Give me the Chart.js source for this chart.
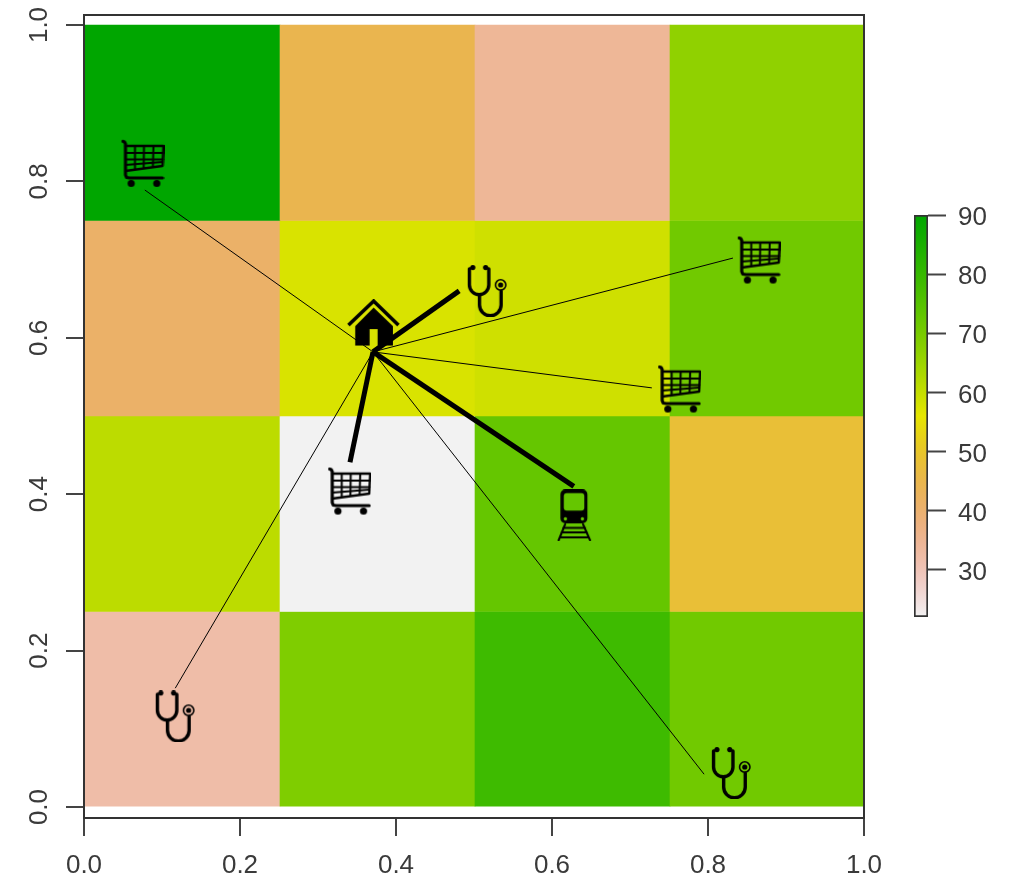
<!DOCTYPE html>
<html>
<head>
<meta charset="utf-8">
<style>
html,body{margin:0;padding:0;background:#fff;overflow:hidden}
canvas{position:absolute;display:block;filter:blur(.35px)}
</style>
<script src="https://cdn.jsdelivr.net/npm/chart.js@4"></script>
</head>
<body>
<canvas id="map" width="1013" height="878" style="left:0;top:0;width:1013px;height:878px"></canvas>
<canvas id="bar" width="123" height="450" style="left:890px;top:190px;width:123px;height:450px"></canvas>
<script>
// ---- data ----
const axisTicks = [0, 0.2, 0.4, 0.6, 0.8, 1];
const cellCentersX = [0.1263, 0.3763, 0.6263, 0.8763];
const rowRanges = [[0.75, 1], [0.5, 0.75], [0.25, 0.5], [0, 0.25]];
const row1 = [90, 44.5, 34.4, 66.7];
const row2 = [41, 57.5, 58.7, 71];
const row3 = [61, 22, 72.7, 48];
const row4 = [32, 69, 78.8, 71];
const legendTicks = [30, 40, 50, 60, 70, 80, 90];
const legendRange = [22, 90];

const home = {x: 0.3705, y: 0.582};
const linkEnds = [
  {x: 0.078, y: 0.789}, {x: 0.481, y: 0.66}, {x: 0.832, y: 0.702}, {x: 0.728, y: 0.536},
  {x: 0.628, y: 0.41}, {x: 0.341, y: 0.441}, {x: 0.117, y: 0.152}, {x: 0.795, y: 0.042}
];
const linkWeights = [1, 5, 1, 1, 5, 5, 1, 1];
const housePoints = [{x: 0.371, y: 0.6195}];
const cartPoints = [{x: 0.075, y: 0.823}, {x: 0.865, y: 0.6995}, {x: 0.763, y: 0.5345}, {x: 0.34, y: 0.404}];
const stethPoints = [{x: 0.517, y: 0.66}, {x: 0.117, y: 0.116}, {x: 0.83, y: 0.0435}];
const trainPoints = [{x: 0.629, y: 0.373}];

// ---- colour map (terrain palette in HSV) ----
function hsv(h, s, v) {
  const i = Math.floor(h * 6) % 6, f = h * 6 - Math.floor(h * 6);
  const p = v * (1 - s), q = v * (1 - f * s), t = v * (1 - (1 - f) * s);
  const c = [[v,t,p],[q,v,p],[p,v,t],[p,q,v],[t,p,v],[v,p,q]][i];
  return 'rgb(' + c.map(n => Math.round(n * 255)).join(',') + ')';
}
function terrain(val) {
  const t = (val - legendRange[0]) / (legendRange[1] - legendRange[0]);
  if (t >= 0.5) { const f = (t - 0.5) * 2; return hsv((2 + 2 * f) / 12, 1, 0.9 - 0.25 * f); }
  const s = t * 2;
  return hsv(2 * s / 12, s, 0.95 - 0.05 * s);
}

// ---- icons ----
function makeIcon(w, h, draw) {
  const c = document.createElement('canvas');
  c.width = w; c.height = h;
  const g = c.getContext('2d');
  g.strokeStyle = '#000'; g.fillStyle = '#000'; g.lineCap = 'round'; g.lineJoin = 'round';
  draw(g);
  return c;
}
function line(g, pts, lw) {
  g.lineWidth = lw; g.beginPath();
  pts.forEach((p, i) => i ? g.lineTo(p[0], p[1]) : g.moveTo(p[0], p[1]));
  g.stroke();
}
function disc(g, x, y, r) { g.beginPath(); g.arc(x, y, r, 0, Math.PI * 2); g.fill(); }

const cartIcon = makeIcon(44, 49, g => {
  line(g, [[2.5,2.5],[4,3],[5,5],[5,36],[6,38.5],[9,39],[42,39]], 3.2);
  line(g, [[5,7],[43,7],[42,27],[5,32]], 2.4);
  [14.5,23.5,33].forEach((x, i) => line(g, [[x,7],[x - i * 0.3,30.5 - i * 1.4]], 2));
  line(g, [[5,14],[42.8,14]], 2);
  line(g, [[5,20.5],[42.4,20.5]], 2);
  line(g, [[5,26],[42.2,23]], 2);
  disc(g, 10.7, 44.5, 3.6); disc(g, 36.3, 44.5, 3.6);
});

const stethIcon = makeIcon(41, 52, g => {
  disc(g, 6, 2.6, 2.6); disc(g, 18.8, 2.6, 2.6);
  g.lineWidth = 2; g.beginPath(); g.moveTo(6,2.6); g.lineTo(3.5,3.5); g.moveTo(18.8,2.6); g.lineTo(21,3.5); g.stroke();
  g.lineWidth = 3.4; g.beginPath();
  g.moveTo(2.6,4); g.lineTo(2.6,19); g.arc(12.3,20,9.7,Math.PI,0,true); g.lineTo(22,4); g.stroke();
  g.beginPath();
  g.moveTo(12.7,31); g.lineTo(12.7,40); g.arc(23.5,40,10.8,Math.PI,0,true); g.lineTo(34.3,26); g.stroke();
  g.lineWidth = 1.6; g.beginPath(); g.arc(33.8,20,5.2,0,Math.PI*2); g.stroke();
  disc(g, 33.8, 20, 2.6);
});

const trainIcon = makeIcon(35, 52, g => {
  g.beginPath();
  g.roundRect(3.3,0,27,34,5);
  g.roundRect(6.7,3.7,20.5,17.5,3);
  g.moveTo(10,29.5); g.arc(8.3,29.5,1.7,0,Math.PI*2); g.closePath();
  g.moveTo(27,29.5); g.arc(25.3,29.5,1.7,0,Math.PI*2); g.closePath();
  g.fill('evenodd');
  line(g, [[8,35],[1.5,51]], 2);
  line(g, [[26,35],[33,51]], 2);
  line(g, [[6.2,38.5],[27.8,38.5]], 1.8);
  line(g, [[4.5,43],[29.5,43]], 1.8);
  line(g, [[2.8,48],[31.2,48]], 1.8);
});

const houseIcon = makeIcon(53, 47, g => {
  g.lineCap = 'butt'; g.lineJoin = 'miter';
  line(g, [[1.5,26],[26.7,2],[51.5,26]], 3.6);
  g.beginPath();
  g.moveTo(8.3,46.5); g.lineTo(8.3,27); g.lineTo(26.7,8.5); g.lineTo(46,27); g.lineTo(46,46.5); g.closePath();
  g.rect(22.7,30,8,16.5);
  g.fill('evenodd');
});

// ---- main map chart ----
const fontFamily = '"Liberation Sans", Arial, sans-serif';
const inkColor = '#3a3a3a';
const rows = [row1, row2, row3, row4];
const cellSets = rows.map((vals, r) => ({
  type: 'bar',
  label: 'row ' + (r + 1),
  data: vals.map((v, i) => ({x: cellCentersX[i], y: rowRanges[r]})),
  backgroundColor: vals.map(terrain),
  borderWidth: 0,
  stack: 'cells',
  barThickness: 'flex',
  barPercentage: 1,
  categoryPercentage: 1,
  order: 10
}));
const linkSets = linkEnds.map((end, i) => ({
  type: 'line',
  label: 'link ' + (i + 1),
  data: [home, end],
  borderColor: '#000',
  borderWidth: linkWeights[i],
  borderCapStyle: 'butt',
  pointRadius: 0,
  fill: false,
  tension: 0,
  order: 5
}));
const iconSet = (label, data, icon) => ({
  type: 'scatter', label, data, pointStyle: icon, pointRadius: 10,
  backgroundColor: '#000', borderColor: '#000', order: 1
});
const frame = {
  id: 'frame',
  afterDraw(chart) {
    const a = chart.chartArea, g = chart.ctx;
    g.save(); g.strokeStyle = '#333'; g.lineWidth = 2;
    g.strokeRect(a.left, a.top, a.right - a.left, a.bottom - a.top);
    g.restore();
  }
};
const tickFont = {family: fontFamily, size: 26};
const setTicks = list => scale => { scale.ticks = list.map(value => ({value})); };
const fixFit = (w, h) => s => {
  if (w) s.width = w;
  if (h) s.height = h;
  s.paddingTop = s.paddingBottom = s.paddingLeft = s.paddingRight = 0;
};

new Chart(document.getElementById('map'), {
  type: 'bar',
  data: {
    datasets: [
      ...cellSets, ...linkSets,
      iconSet('home', housePoints, houseIcon),
      iconSet('shop', cartPoints, cartIcon),
      iconSet('doctor', stethPoints, stethIcon),
      iconSet('station', trainPoints, trainIcon)
    ]
  },
  plugins: [frame],
  options: {
    responsive: false,
    animation: false,
    layout: {padding: {left: 0, top: 15, right: 149, bottom: 0}},
    plugins: {legend: {display: false}, tooltip: {enabled: false}},
    scales: {
      x: {
        type: 'linear', min: 0, max: 1, offset: false,
        afterBuildTicks: setTicks(axisTicks),
        afterFit: fixFit(0, 60),
        border: {display: false},
        grid: {offset: false, drawOnChartArea: false, tickLength: 18, tickWidth: 2, tickColor: '#444', lineWidth: 2},
        ticks: {font: tickFont, color: inkColor, padding: 14, maxRotation: 0, autoSkip: false, callback: v => v.toFixed(1)}
      },
      y: {
        type: 'linear', min: -0.014, max: 1.0128, stacked: false,
        afterBuildTicks: setTicks(axisTicks),
        afterFit: fixFit(84, 0),
        border: {display: false},
        grid: {drawOnChartArea: false, tickLength: 18, tickWidth: 2, tickColor: '#444', lineWidth: 2},
        ticks: {font: tickFont, color: inkColor, padding: 8, minRotation: 90, maxRotation: 90, crossAlign: 'center', autoSkip: false, callback: v => v.toFixed(1)}
      }
    }
  }
});

// ---- colour key ----
new Chart(document.getElementById('bar'), {
  type: 'bar',
  data: {
    labels: ['key'],
    datasets: [{
      data: [legendRange],
      barPercentage: 1, categoryPercentage: 1,
      borderColor: '#333', borderWidth: 2, borderSkipped: false,
      backgroundColor(ctx) {
        const a = ctx.chart.chartArea;
        if (!a) return '#fff';
        const grad = ctx.chart.ctx.createLinearGradient(0, a.bottom, 0, a.top);
        for (let i = 0; i <= 68; i++) grad.addColorStop(i / 68, terrain(legendRange[0] + i));
        return grad;
      }
    }]
  },
  options: {
    responsive: false,
    animation: false,
    layout: {padding: {left: 24, top: 25, right: 0, bottom: 23}},
    plugins: {legend: {display: false}, tooltip: {enabled: false}},
    scales: {
      x: {display: false},
      y: {
        position: 'right', min: legendRange[0], max: legendRange[1],
        afterBuildTicks: setTicks(legendTicks),
        afterFit: fixFit(85, 0),
        border: {display: false},
        grid: {drawOnChartArea: false, tickLength: 18, tickWidth: 2, tickColor: '#444'},
        ticks: {font: tickFont, color: inkColor, padding: 12, labelOffset: 3, autoSkip: false}
      }
    }
  }
});
</script>
</body>
</html>
